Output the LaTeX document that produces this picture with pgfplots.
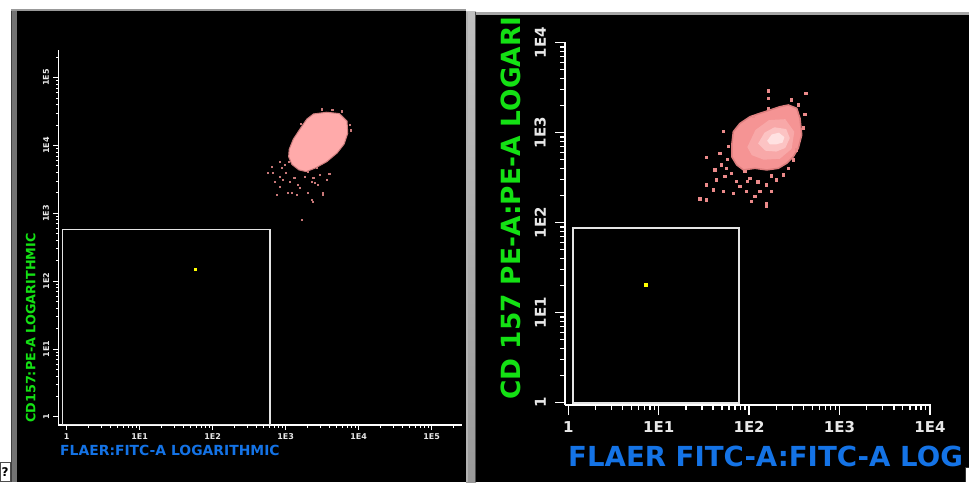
\documentclass[border=0pt]{standalone}
\usepackage{fontspec}
\setmainfont{DejaVu Sans}
\usepackage{pgfplots}
\pgfplotsset{compat=1.18}
\definecolor{lgreen}{RGB}{20,225,20}
\definecolor{lblue}{RGB}{20,115,230}
\definecolor{tickgray}{RGB}{232,232,232}
\definecolor{coreA}{RGB}{255,170,170}
\definecolor{rimA}{RGB}{205,125,125}
\definecolor{dotA}{RGB}{200,120,120}
\definecolor{coreB}{RGB}{245,148,148}
\definecolor{midB}{RGB}{248,168,168}
\definecolor{mid2B}{RGB}{252,195,195}
\definecolor{hiB}{RGB}{255,225,225}
\definecolor{rimB}{RGB}{220,125,125}
\definecolor{dotB}{RGB}{235,138,138}
\definecolor{gatec}{RGB}{228,228,228}
\definecolor{dotY}{RGB}{255,255,0}
\begin{document}
\begin{tikzpicture}
\useasboundingbox (0pt,0pt) rectangle (969pt,482pt);
\fill[white] (0pt,0pt) rectangle (969pt,482pt);
% left panel frame
\fill[black!55] (11pt,0pt) rectangle (16.5pt,472.7pt);
\fill[black!75] (11pt,0pt) rectangle (12pt,472.7pt);
\fill[black!40] (11pt,470.5pt) rectangle (466pt,472.7pt);
\fill[black] (16.5pt,0pt) rectangle (466pt,470.5pt);
% separator
\shade[top color=black!25, middle color=black!80, bottom color=black!40] (466pt,0pt) rectangle (476pt,470pt);
\fill[black!30] (466pt,0pt) rectangle (467.5pt,470pt);
\fill[black!70] (474.5pt,0pt) rectangle (476pt,470pt);
% right panel frame
\fill[black!35] (476pt,467pt) rectangle (969pt,470pt);
\fill[black] (476pt,0pt) rectangle (969pt,467pt);
% question box
\draw[black!70, line width=0.6pt] (0.3pt,0.3pt) rectangle (10pt,20pt);
\node[inner sep=0pt, font=\fontsize{12}{12}\selectfont\bfseries] at (5pt,10pt) {?};
% bottom-right corner
\fill[white] (965pt,0pt) rectangle (969pt,15pt);
\draw[black!80, line width=0.6pt] (965pt,0pt) -- (965pt,15pt) -- (969pt,15pt);

% ---------------- left panel ----------------
\begin{scope}
\clip (16.5pt,0pt) rectangle (466pt,470.5pt);
\begin{axis}[
  at={(58.3pt,57pt)}, anchor=south west,
  scale only axis, width=403.7pt, height=375pt,
  xmin=-0.115, xmax=5.415, ymin=-0.122, ymax=5.408,
  axis lines=left, axis line style={-, white, line width=1.2pt},
  tick align=outside, tick style={white, line width=0.8pt},
  major tick length=5pt, minor tick length=2.5pt,
  xtick={0,1,2,3,4,5}, xticklabels={1,1E1,1E2,1E3,1E4,1E5},
  ytick={0,1,2,3,4,5}, yticklabels={1,1E1,1E2,1E3,1E4,1E5},
  minor xtick={0.301,0.477,0.602,0.699,0.778,0.845,0.903,0.954,1.301,1.477,1.602,1.699,1.778,1.845,1.903,1.954,2.301,2.477,2.602,2.699,2.778,2.845,2.903,2.954,3.301,3.477,3.602,3.699,3.778,3.845,3.903,3.954,4.301,4.477,4.602,4.699,4.778,4.845,4.903,4.954,5.301},
  minor ytick={0.301,0.477,0.602,0.699,0.778,0.845,0.903,0.954,1.301,1.477,1.602,1.699,1.778,1.845,1.903,1.954,2.301,2.477,2.602,2.699,2.778,2.845,2.903,2.954,3.301,3.477,3.602,3.699,3.778,3.845,3.903,3.954,4.301,4.477,4.602,4.699,4.778,4.845,4.903,4.954,5.301},
  ticklabel style={text=tickgray, font=\fontsize{8}{8}\selectfont\bfseries, inner sep=0pt},
  xticklabel style={anchor=north, yshift=-3pt},
  yticklabel style={xshift=-4pt, rotate=90, anchor=south},
  clip=false,
]
% gate
\addplot[gatec, line width=1.2pt] coordinates {(-0.06,-0.11) (2.785,-0.11) (2.785,2.76) (-0.06,2.76)} -- cycle;
% dense core
\addplot[fill=coreA, draw=rimA, line width=1pt] coordinates {
(3.380,4.465) (3.562,4.490) (3.735,4.470) (3.840,4.360) (3.850,4.180) (3.800,4.020)
(3.705,3.890) (3.562,3.760) (3.401,3.665) (3.280,3.615) (3.180,3.640) (3.085,3.720)
(3.040,3.835) (3.048,3.945) (3.105,4.095) (3.200,4.250) (3.290,4.390)} -- cycle;
% outliers
\addplot[only marks, mark=square*, mark size=0.6pt, mark options={draw=dotA, fill=dotA, line width=0pt}] coordinates {
(2.808,3.687) (2.922,3.761) (2.945,3.664) (2.762,3.590) (2.830,3.590) (2.922,3.540)
(2.967,3.491) (2.853,3.466) (2.922,3.392) (2.877,3.270) (3.036,3.295) (3.082,3.295)
(3.173,3.417) (3.151,3.270) (3.196,3.369) (3.310,3.295) (3.356,3.466) (3.401,3.442)
(3.447,3.417) (3.356,3.196) (3.378,3.171) (3.515,3.295) (3.562,3.491) (3.470,3.565)
(3.264,3.540) (3.059,3.466) (3.219,2.901) (2.990,3.712) (3.310,3.614) (3.425,3.664)
(3.515,3.270) (3.000,3.600) (3.120,3.520) (3.380,3.520) (3.600,3.580) (3.050,3.760)
(3.640,4.520) (3.500,4.530) (3.770,4.500) (3.880,4.300) (3.890,4.220) (3.210,4.320)};
% yellow event
\addplot[only marks, mark=square*, mark size=1pt, mark options={draw=dotY, fill=dotY, line width=0pt}] coordinates {(1.767,2.174)};
\end{axis}
\node[rotate=90, anchor=west, inner sep=0pt, text=lgreen, font=\fontsize{12.8}{13}\selectfont\bfseries] at (30.7pt,59pt) {CD157:PE-A LOGARITHMIC};
\node[anchor=west, inner sep=0pt, text=lblue, font=\fontsize{13.9}{14}\selectfont\bfseries] at (60pt,32pt) {FLAER:FITC-A LOGARITHMIC};
\end{scope}

% ---------------- right panel ----------------
\begin{scope}
\clip (476pt,0pt) rectangle (969pt,467pt);
\begin{axis}[
  at={(565pt,77pt)}, anchor=south west,
  scale only axis, width=365.7pt, height=363.3pt,
  xmin=-0.037, xmax=4.009, ymin=-0.026, ymax=4.011,
  axis lines=left, axis line style={-, white, line width=2pt},
  tick align=outside, tick style={white, line width=1.4pt},
  major tick length=10pt, minor tick length=5pt,
  xtick={0,1,2,3,4}, xticklabels={1,1E1,1E2,1E3,1E4},
  ytick={0,1,2,3,4}, yticklabels={1,1E1,1E2,1E3,1E4},
  minor xtick={0.301,0.477,0.602,0.699,0.778,0.845,0.903,0.954,1.301,1.477,1.602,1.699,1.778,1.845,1.903,1.954,2.301,2.477,2.602,2.699,2.778,2.845,2.903,2.954,3.301,3.477,3.602,3.699,3.778,3.845,3.903,3.954},
  minor ytick={0.301,0.477,0.602,0.699,0.778,0.845,0.903,0.954,1.301,1.477,1.602,1.699,1.778,1.845,1.903,1.954,2.301,2.477,2.602,2.699,2.778,2.845,2.903,2.954,3.301,3.477,3.602,3.699,3.778,3.845,3.903,3.954},
  ticklabel style={text=tickgray, font=\fontsize{15}{15}\selectfont\bfseries, inner sep=0pt},
  xticklabel style={anchor=north, yshift=-6pt},
  yticklabel style={xshift=-9pt, rotate=90, anchor=south},
  clip=false,
]
\addplot[gatec, line width=2pt] coordinates {(0.055,0.0) (1.89,0.0) (1.89,1.94) (0.055,1.94)} -- cycle;
\addplot[fill=coreB, draw=rimB, line width=1.5pt] coordinates {
(2.010,3.178) (2.121,3.216) (2.232,3.252) (2.342,3.289) (2.434,3.308) (2.527,3.271)
(2.563,3.160) (2.582,2.974) (2.544,2.827) (2.489,2.733) (2.416,2.660) (2.323,2.604)
(2.195,2.586) (2.065,2.604) (1.936,2.586) (1.863,2.641) (1.808,2.733) (1.808,2.863)
(1.825,3.011) (1.899,3.104)} -- cycle;
\addplot[fill=midB, draw=none] coordinates {
(1.98,2.84) (2.07,3.03) (2.22,3.14) (2.40,3.15) (2.50,3.01) (2.47,2.82)
(2.34,2.71) (2.16,2.70) (2.03,2.75)} -- cycle;
\addplot[fill=mid2B, draw=none] coordinates {
(2.10,2.88) (2.17,3.00) (2.28,3.06) (2.41,3.04) (2.45,2.94) (2.40,2.83)
(2.30,2.79) (2.18,2.80)} -- cycle;
\addplot[fill=hiB, draw=none] coordinates {
(2.20,2.91) (2.25,2.98) (2.33,3.00) (2.39,2.95) (2.37,2.89) (2.30,2.87) (2.23,2.87)} -- cycle;
\addplot[only marks, mark=square*, mark size=1.2pt, mark options={draw=dotB, fill=dotB, line width=0pt}] coordinates {
(2.212,3.463) (2.629,3.438) (2.212,3.382) (2.471,3.363) (2.544,3.308) (2.212,3.271)
(2.046,3.178) (1.715,3.011) (1.770,2.844) (1.531,2.722) (1.678,2.771) (1.697,2.641)
(1.623,2.586) (1.642,2.474) (1.531,2.419) (1.604,2.363) (1.715,2.344) (1.825,2.327)
(1.973,2.344) (2.065,2.289) (2.121,2.344) (2.195,2.419) (2.250,2.344) (2.195,2.216)
(2.029,2.233) (1.531,2.252) (1.733,2.511) (1.863,2.456) (1.899,2.400) (2.378,2.530)
(2.434,2.604) (2.489,2.697) (2.527,2.808) (2.010,2.493) (1.955,2.567) (1.808,2.549)
(2.305,2.474) (1.457,2.263) (2.195,2.186) (1.449,2.260) (1.760,2.700) (1.750,2.600)
(2.100,2.450) (2.250,2.520) (1.980,2.460) (2.600,3.050) (2.620,3.200)};
\addplot[only marks, mark=square*, mark size=1.5pt, mark options={draw=dotY, fill=dotY, line width=0pt}] coordinates {(0.855,1.31)};
\end{axis}
\end{scope}
\node[rotate=90, anchor=west, inner sep=0pt, text=lgreen, font=\fontsize{26.4}{27}\selectfont\bfseries] at (511pt,82pt) {CD 157 PE-A:PE-A LOGARI};
\node[anchor=west, inner sep=0pt, text=lblue, font=\fontsize{27.6}{28}\selectfont\bfseries] at (568pt,26pt) {FLAER FITC-A:FITC-A LOG};
\end{tikzpicture}
\end{document}
